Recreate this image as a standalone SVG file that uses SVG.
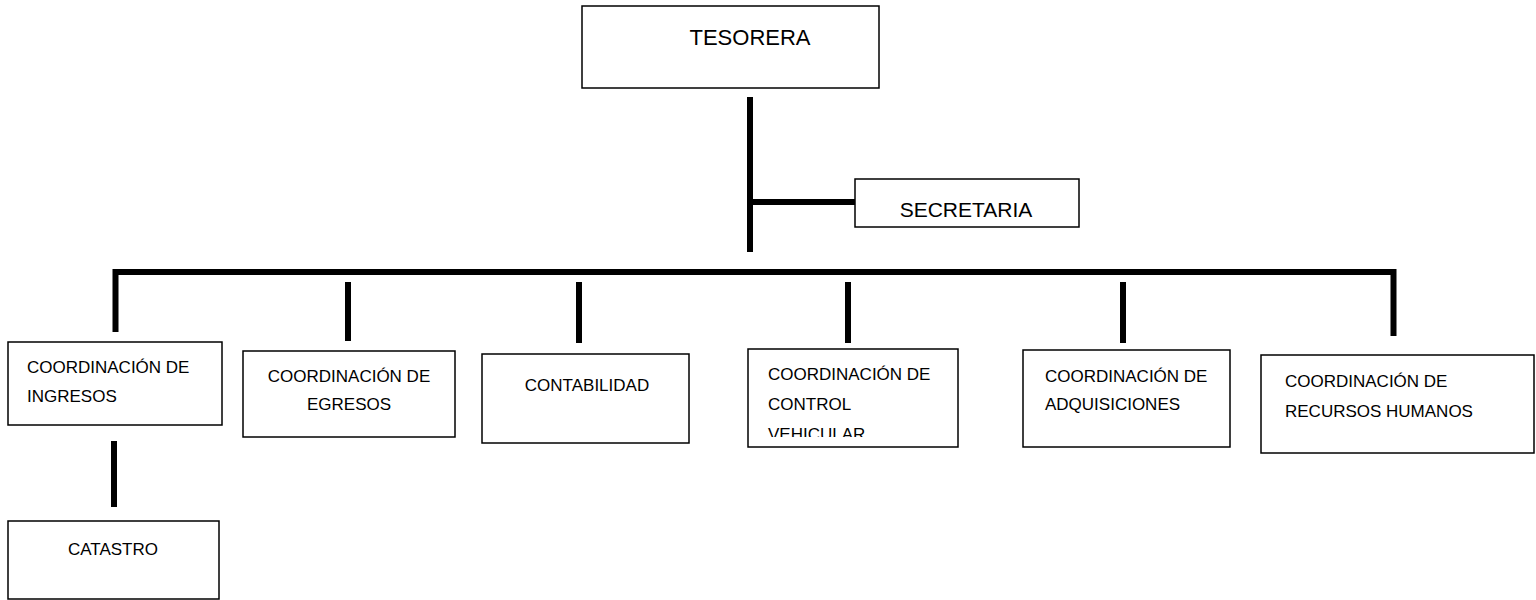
<svg xmlns="http://www.w3.org/2000/svg" width="1536" height="600" viewBox="0 0 1536 600">
  <style>
    .box { fill: #ffffff; stroke: #000000; stroke-width: 1.5; }
    .conn { fill: none; stroke: #000000; stroke-width: 6; }
    .t { font-family: "Liberation Sans", Arial, sans-serif; font-size: 17px; fill: #000000; }
    .tc { text-anchor: middle; }
    .big { font-size: 22px; }
    .mid { font-size: 21px; }
  </style>
  <defs>
    <clipPath id="clipVeh">
      <rect x="748" y="349" width="210" height="88"/>
    </clipPath>
  </defs>
  <rect width="1536" height="600" fill="#ffffff"/>

  <g id="connectors">
    <line class="conn" x1="750" y1="97" x2="750" y2="252"/>
    <line class="conn" x1="750" y1="202" x2="855" y2="202"/>
    <path class="conn" d="M115.5 332 V272 H1393.5 V336"/>
    <line class="conn" x1="348" y1="282" x2="348" y2="341"/>
    <line class="conn" x1="579" y1="282" x2="579" y2="343"/>
    <line class="conn" x1="848" y1="282" x2="848" y2="343"/>
    <line class="conn" x1="1123" y1="282" x2="1123" y2="343"/>
    <line class="conn" x1="114" y1="441" x2="114" y2="507"/>
  </g>

  <g id="tesorera">
    <rect class="box" x="582" y="6" width="297" height="82"/>
    <text class="t tc big" x="750" y="45">TESORERA</text>
  </g>

  <g id="secretaria">
    <rect class="box" x="855" y="179" width="224" height="48"/>
    <text class="t tc mid" x="966" y="217">SECRETARIA</text>
  </g>

  <g id="ingresos">
    <rect class="box" x="8" y="342" width="214" height="83"/>
    <text class="t" x="27" y="373">COORDINACIÓN DE</text>
    <text class="t" x="27" y="402">INGRESOS</text>
  </g>

  <g id="egresos">
    <rect class="box" x="243" y="351" width="212" height="86"/>
    <text class="t tc" x="349" y="382">COORDINACIÓN DE</text>
    <text class="t tc" x="349" y="410">EGRESOS</text>
  </g>

  <g id="contabilidad">
    <rect class="box" x="482" y="354" width="207" height="89"/>
    <text class="t tc" x="587" y="391">CONTABILIDAD</text>
  </g>

  <g id="control-vehicular">
    <rect class="box" x="748" y="349" width="210" height="98"/>
    <text class="t" x="768" y="380">COORDINACIÓN DE</text>
    <text class="t" x="768" y="410">CONTROL</text>
    <text class="t" x="768" y="440" clip-path="url(#clipVeh)">VEHICULAR</text>
  </g>

  <g id="adquisiciones">
    <rect class="box" x="1023" y="350" width="207" height="97"/>
    <text class="t" x="1045" y="382">COORDINACIÓN DE</text>
    <text class="t" x="1045" y="410">ADQUISICIONES</text>
  </g>

  <g id="recursos-humanos">
    <rect class="box" x="1261" y="355" width="273" height="98"/>
    <text class="t" x="1285" y="387">COORDINACIÓN DE</text>
    <text class="t" x="1285" y="417">RECURSOS HUMANOS</text>
  </g>

  <g id="catastro">
    <rect class="box" x="8" y="521" width="211" height="78"/>
    <text class="t tc" x="113" y="555">CATASTRO</text>
  </g>
</svg>
